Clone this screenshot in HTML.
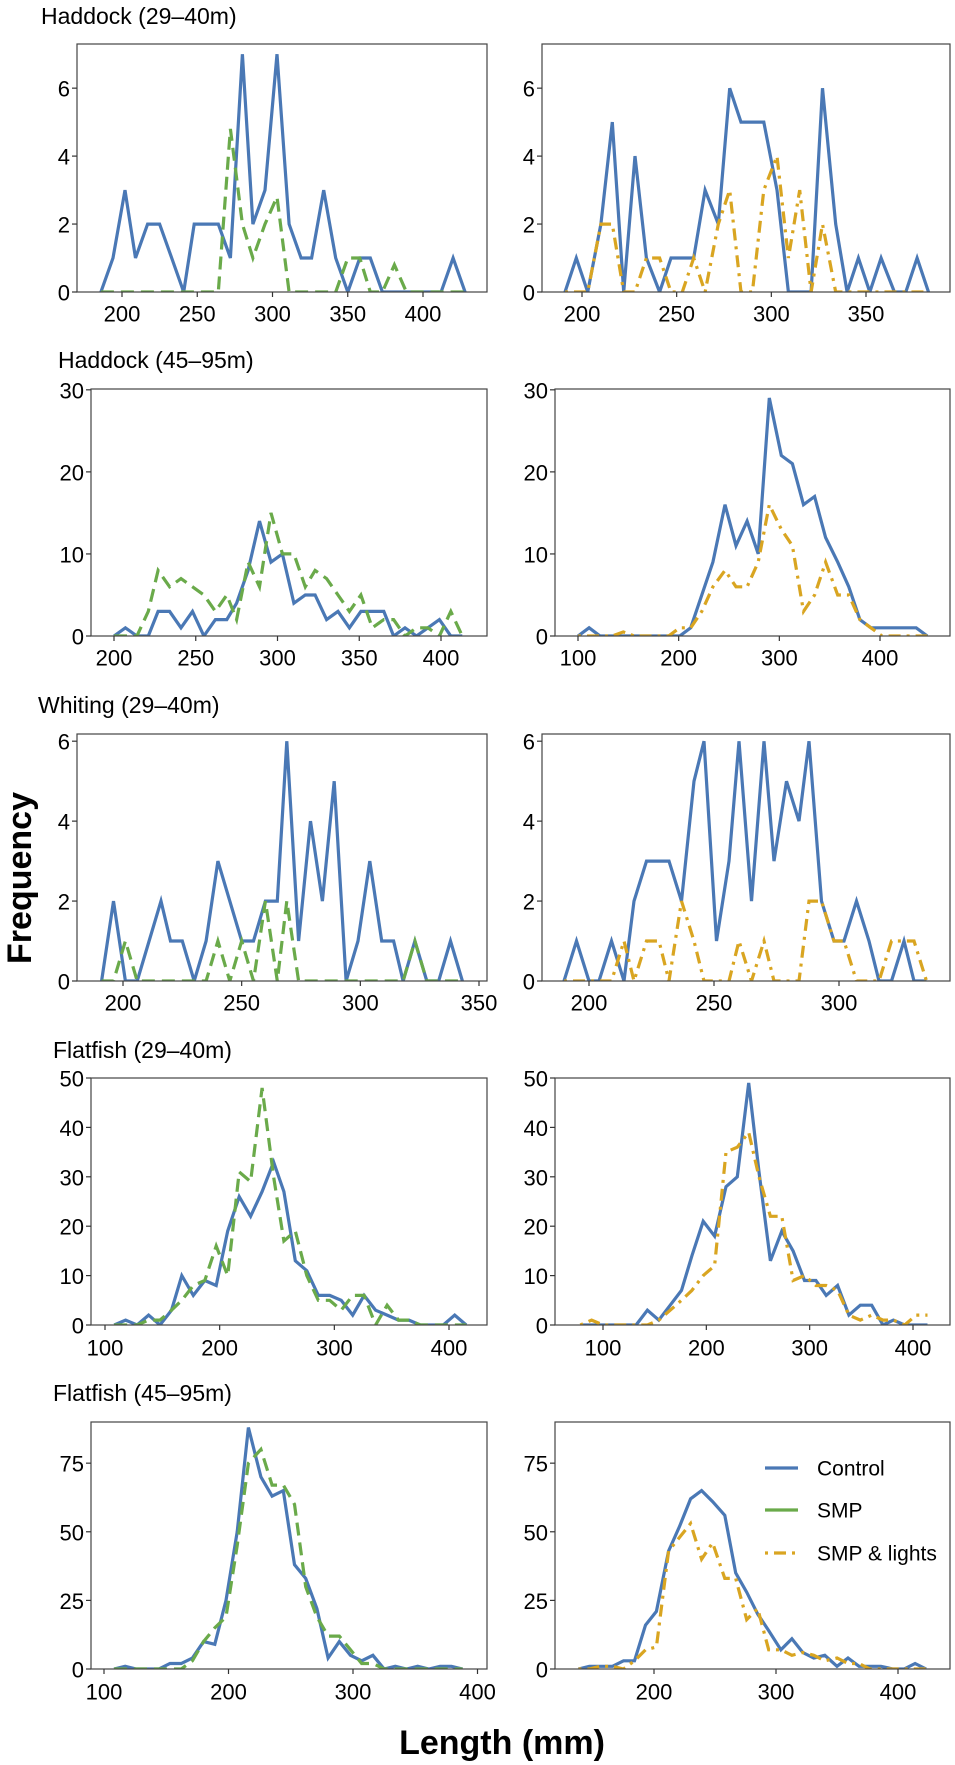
<!DOCTYPE html>
<html>
<head>
<meta charset="utf-8">
<style>
  html,body{margin:0;padding:0;background:#fff;}
  svg{display:block;}
  text{font-family:"Liberation Sans",Arial,sans-serif;fill:#000;}
</style>
</head>
<body>
<svg id="chart" width="955" height="1765" viewBox="0 0 955 1765" xmlns="http://www.w3.org/2000/svg">
  <text x="20" y="878" font-size="34" font-weight="bold" text-anchor="middle" dominant-baseline="central" transform="rotate(-90 20 878)">Frequency</text>
  <text x="502" y="1743" font-size="34" font-weight="bold" text-anchor="middle" dominant-baseline="central">Length (mm)</text>
  <text x="41" y="16" font-size="23" dominant-baseline="central">Haddock (29–40m)</text>
  <text x="58" y="360" font-size="23" dominant-baseline="central">Haddock (45–95m)</text>
  <text x="38" y="705" font-size="23" dominant-baseline="central">Whiting (29–40m)</text>
  <text x="53" y="1050" font-size="23" dominant-baseline="central">Flatfish (29–40m)</text>
  <text x="53" y="1393" font-size="23" dominant-baseline="central">Flatfish (45–95m)</text>
  <g>
    <line x1="765" y1="1468" x2="798" y2="1468" stroke="#4a78b5" stroke-width="3.2"/>
    <text x="817" y="1469" font-size="21" dominant-baseline="central">Control</text>
    <line x1="765" y1="1510" x2="798" y2="1510" stroke="#6aaa4a" stroke-width="3.2"/>
    <text x="817" y="1511" font-size="21" dominant-baseline="central">SMP</text>
    <line x1="765" y1="1553" x2="798" y2="1553" stroke="#d9a521" stroke-width="3.2" stroke-dasharray="3 6 12 6"/>
    <text x="817" y="1554" font-size="21" dominant-baseline="central">SMP &amp; lights</text>
  </g>
</svg>
<script>
// ---- Data (length bins in mm, frequencies) ----
const had1Len = [186,194,202,209,217,225,233,241,248,256,264,272,280,287,295,303,311,319,326,334,342,350,358,365,373,381,389,397,404,412,420,428];
const had1Ctl = [0,1,3,1,2,2,1,0,2,2,2,1,7,2,3,7,2,1,1,3,1,0,1,1,0,0,0,0,0,0,1,0];
const had1Smp = [0,0,0,0,0,0,0,0,0,0,0,4.8,2,1,2,2.8,0,0,0,0,0,1,1,0,0,0.8,0,0,0,0,0,0];
const had1bLen = [191,197,203,210,216,222,228,234,241,247,253,259,265,272,278,284,290,296,303,309,315,321,327,334,340,346,352,358,365,371,377,383];
const had1bCtl = [0,1,0,2,5,0,4,1,0,1,1,1,3,2,6,5,5,5,3,0,0,0,6,2,0,1,0,1,0,0,1,0];
const had1bLgt = [0,0,0,2,2,0,0,1,1,0,0,1,0,2,3,0,0,3,4,1,3,0,2,0,0,0,0,0,0,0,0,0];

const had2Len = [200,207,214,221,227,234,241,248,255,262,269,275,282,289,296,303,310,317,323,330,337,344,351,358,365,371,378,385,392,399,406,413];
const had2Ctl = [0,1,0,0,3,3,1,3,0,2,2,4,8,14,9,10,4,5,5,2,3,1,3,3,3,0,1,0,1,2,0,0];
const had2Smp = [0,0,0,3,8,6,7,6,5,3,5,2,9,6,15,10,10,6,8,7,5,3,5,1,2,2,0,1,1,0,3,0];
const had2bLen = [100,111,122,134,145,156,167,178,190,201,212,223,234,246,257,268,279,290,302,313,324,335,346,358,369,380,391,402,414,425,436,447];
const had2bCtl = [0,1,0,0,0,0,0,0,0,0,1,5,9,16,11,14,10,29,22,21,16,17,12,9,6,2,1,1,1,1,1,0];
const had2bLgt = [0,0,0,0,0.5,0,0,0,0,1,1,3,6,8,6,6,9,16,13,11,3,5,9,5,5,2,1,0,0,0,0,0];

const whiLen = [191,196,201,206,211,216,220,225,230,235,240,245,250,255,260,265,269,274,279,284,289,294,299,304,309,314,318,323,328,333,338,343];
const whiCtl = [0,2,0,0,1,2,1,1,0,1,3,2,1,1,2,2,6,1,4,2,5,0,1,3,1,1,0,1,0,0,1,0];
const whiSmp = [0,0,1,0,0,0,0,0,0,0,1,0,1,0,2,0,2,0,0,0,0,0,0,0,0,0,0,1,0,0,0,0];
const whibLen = [190,195,200,204,209,214,218,223,228,232,237,242,246,251,256,260,265,270,274,279,284,288,293,298,302,307,312,316,321,326,330,335];
const whibCtl = [0,1,0,0,1,0,2,3,3,3,2,5,6,1,3,6,2,6,3,5,4,6,2,1,1,2,1,0,0,1,0,0];
const whibLgt = [0,0,0,0,0,1,0,1,1,0,2,1,0,0,0,1,0,1,0,0,0,2,2,1,1,0,0,0,1,1,1,0];

const flat1Len = [108,118,128,138,148,158,167,177,187,197,207,217,227,237,247,256,266,276,286,296,306,316,326,336,346,356,365,375,385,395,405,415];
const flat1Ctl = [0,1,0,2,0,3,10,6,9,8,19,26,22,27,33,27,13,11,6,6,5,2,6,3,2,1,1,0,0,0,2,0];
const flat1Smp = [0,0,0,1,1,3,5,8,9,16,10,31,29,48,30,17,19,10,5,5,3,6,6,0,4,1,1,0,0,0,0,0];
const flat1bLen = [78,89,100,111,121,132,143,154,165,176,186,197,208,219,230,241,251,262,273,284,295,306,316,327,338,349,360,371,381,392,403,414];
const flat1bCtl = [0,0,0,0,0,0,3,1,4,7,14,21,18,28,30,49,31,13,19,15,9,9,6,8,2,4,4,0,1,0,0,0];
const flat1bLgt = [0,1,0,0,0,0,0,1,3,5,7,10,12,35,36,39,30,22,22,9,10,8,8,7,2,1,2,1,1,0,2,2];

const flat2Len = [108,117,126,135,144,153,162,171,180,189,198,207,216,226,235,244,253,262,271,280,289,298,307,316,325,334,343,352,361,370,379,388];
const flat2Ctl = [0,1,0,0,0,2,2,4,10,9,25,50,88,70,63,65,38,33,22,4,10,5,3,5,0,1,0,1,0,1,1,0];
const flat2Smp = [0,0,0,0,0,0,0,3,10,15,19,45,75,80,67,67,60,30,19,12,12,7,2,2,0,0,0,0,0,0,0,0];
const flat2bLen = [138,147,156,166,175,184,193,202,212,221,230,239,248,258,267,276,285,294,304,313,322,331,340,350,359,368,377,386,396,405,414,423];
const flat2bCtl = [0,1,1,1,3,3,16,21,43,52,62,65,61,56,35,28,20,14,7,11,6,4,5,1,4,1,1,1,0,0,2,0];
const flat2bLgt = [0,0,1,1,0,3,7,8,43,48,53,40,46,33,33,18,22,7,7,5,6,5,3,4,2,2,0,0,0,0,0,0];

const ticksHad1 = [200,250,300,350,400];
const ticksHad1b = [200,250,300,350];
const ticksHad2 = [200,250,300,350,400];
const ticksHundreds = [100,200,300,400];
const ticksWhi = [200,250,300,350];
const ticksWhib = [200,250,300];
const ticksFlat2b = [200,300,400];
const yTicksSmall = [0,2,4,6];
const yTicksHad2 = [0,10,20,30];
const yTicksFlat1 = [0,10,20,30,40,50];
const yTicksFlat2 = [0,25,50,75];

// ---- Layout (pixel geometry, not data) ----
const COLORS = {ctl:'#4a78b5', smp:'#6aaa4a', lgt:'#d9a521'};
const DASH = {ctl:null, smp:'13 7', lgt:'3 6 12 6'};
const SVGNS = 'http://www.w3.org/2000/svg';
const svg = document.getElementById('chart');

const panels = [
  {id:'haddock-29-40-left', box:[77,44,487,292], xa:[200,122,400,423], ymax:7.3, xt:ticksHad1, yt:yTicksSmall, ly:314,
   series:[['ctl',had1Len,had1Ctl],['smp',had1Len,had1Smp]]},
  {id:'haddock-29-40-right', box:[542,44,950,292], xa:[200,582,350,866], ymax:7.3, xt:ticksHad1b, yt:yTicksSmall, ly:314,
   series:[['ctl',had1bLen,had1bCtl],['lgt',had1bLen,had1bLgt]]},
  {id:'haddock-45-95-left', box:[91,389,487,636], xa:[200,114,400,441], ymax:30.1, xt:ticksHad2, yt:yTicksHad2, ly:658,
   series:[['ctl',had2Len,had2Ctl],['smp',had2Len,had2Smp]]},
  {id:'haddock-45-95-right', box:[555,389,950,636], xa:[100,578,400,880], ymax:30.1, xt:ticksHundreds, yt:yTicksHad2, ly:658,
   series:[['ctl',had2bLen,had2bCtl],['lgt',had2bLen,had2bLgt]]},
  {id:'whiting-29-40-left', box:[77,734,487,981], xa:[200,123,350,479], ymax:6.18, xt:ticksWhi, yt:yTicksSmall, ly:1003,
   series:[['ctl',whiLen,whiCtl],['smp',whiLen,whiSmp]]},
  {id:'whiting-29-40-right', box:[542,734,950,981], xa:[200,589,300,839], ymax:6.18, xt:ticksWhib, yt:yTicksSmall, ly:1003,
   series:[['ctl',whibLen,whibCtl],['lgt',whibLen,whibLgt]]},
  {id:'flatfish-29-40-left', box:[91,1078,487,1325], xa:[100,105,400,449], ymax:50, xt:ticksHundreds, yt:yTicksFlat1, ly:1348,
   series:[['ctl',flat1Len,flat1Ctl],['smp',flat1Len,flat1Smp]]},
  {id:'flatfish-29-40-right', box:[555,1078,950,1325], xa:[100,603,400,913], ymax:50, xt:ticksHundreds, yt:yTicksFlat1, ly:1348,
   series:[['ctl',flat1bLen,flat1bCtl],['lgt',flat1bLen,flat1bLgt]]},
  {id:'flatfish-45-95-left', box:[91,1422,487,1669], xa:[100,104,300,353], ymax:90, xt:ticksHundreds, yt:yTicksFlat2, ly:1692,
   series:[['ctl',flat2Len,flat2Ctl],['smp',flat2Len,flat2Smp]]},
  {id:'flatfish-45-95-right', box:[555,1422,950,1669], xa:[200,654,400,898], ymax:90, xt:ticksFlat2b, yt:yTicksFlat2, ly:1692,
   series:[['ctl',flat2bLen,flat2bCtl],['lgt',flat2bLen,flat2bLgt]]}
];

function mk(tag, attrs){
  const el = document.createElementNS(SVGNS, tag);
  for (const k in attrs) el.setAttribute(k, attrs[k]);
  return el;
}

panels.forEach(function(p){
  const [x0,y0,x1,y1] = p.box;
  const [v1,p1,v2,p2] = p.xa;
  const xs = v => p1 + (v - v1) * (p2 - p1) / (v2 - v1);
  const ys = v => y1 - v * (y1 - y0) / p.ymax;

  const g = mk('g', {});
  
  
  svg.appendChild(g);

  const clipId = 'clip-' + p.id;
  const cp = mk('clipPath', {id: clipId});
  cp.appendChild(mk('rect', {x:x0, y:y0-4, width:x1-x0, height:y1-y0+4}));
  g.appendChild(cp);

  p.series.forEach(function(s){
    const key = s[0], lens = s[1], vals = s[2];
    let d = '';
    for (let i = 0; i < vals.length; i++) {
      d += (i ? 'L' : 'M') + xs(lens[i]).toFixed(1) + ' ' + ys(vals[i]).toFixed(1);
    }
    const path = mk('path', {d:d, fill:'none', stroke:COLORS[key], 'stroke-width':3.2, 'stroke-linejoin':'miter', 'clip-path':'url(#'+clipId+')'});
    if (DASH[key]) path.setAttribute('stroke-dasharray', DASH[key]);
    
    
    g.appendChild(path);
  });

  const frame = mk('rect', {x:x0, y:y0, width:x1-x0, height:y1-y0, fill:'none', stroke:'#444', 'stroke-width':1.2});
  
  
  g.appendChild(frame);

  p.yt.forEach(function(t){
    const yy = ys(t);
    const tk = mk('line', {x1:x0-5, y1:yy, x2:x0, y2:yy, stroke:'#333', 'stroke-width':1.2});
    
    
    g.appendChild(tk);
    const lb = mk('text', {x:x0-7, y:yy+1, 'font-size':22, 'text-anchor':'end', 'dominant-baseline':'central'});
    lb.textContent = t;
    
    
    g.appendChild(lb);
  });

  p.xt.forEach(function(t){
    const xx = xs(t);
    const tk = mk('line', {x1:xx, y1:y1, x2:xx, y2:y1+5, stroke:'#333', 'stroke-width':1.2});
    
    
    g.appendChild(tk);
    const lb = mk('text', {x:xx, y:p.ly, 'font-size':22, 'text-anchor':'middle', 'dominant-baseline':'central'});
    lb.textContent = t;
    
    
    g.appendChild(lb);
  });
});
</script>
</body>
</html>
